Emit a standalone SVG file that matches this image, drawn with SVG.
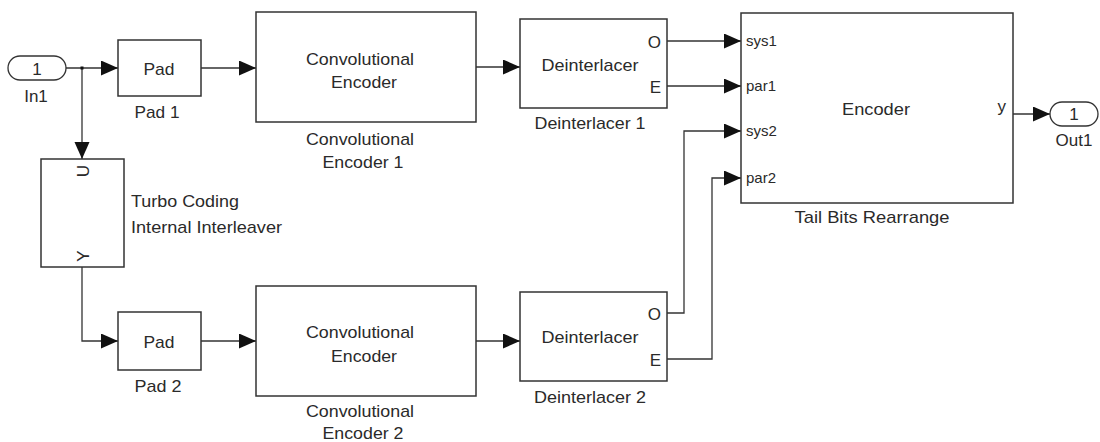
<svg xmlns="http://www.w3.org/2000/svg" width="1100" height="442" viewBox="0 0 1100 442">
  <style>
    .blk { fill: #ffffff; stroke: #333333; stroke-width: 1.5; }
    .io { fill: #ffffff; stroke: #333333; stroke-width: 1.3; }
    .wire { fill: none; stroke: #333333; stroke-width: 1.3; }
    text { font-family: "Liberation Sans", Arial, sans-serif; font-size: 17px; fill: #2a2a2a; }
    .port { font-size: 15px; }
    .mid { text-anchor: middle; }
    .end { text-anchor: end; }
  </style>
  <defs>
    <marker id="arrow" markerUnits="userSpaceOnUse" markerWidth="18" markerHeight="16" refX="17" refY="7.5" orient="auto">
      <path d="M0,0 L17,7.5 L0,15 z" fill="#111111"/>
    </marker>
  </defs>

  <!-- signal lines -->
  <g id="connectors">
    <path class="wire" d="M66,68 H118" marker-end="url(#arrow)"/>
    <path class="wire" d="M82,68 V159" marker-end="url(#arrow)"/>
    <rect x="80.5" y="66.5" width="3" height="3" fill="#111111"/>
    <path class="wire" d="M201,68 H256" marker-end="url(#arrow)"/>
    <path class="wire" d="M476,67 H520" marker-end="url(#arrow)"/>
    <path class="wire" d="M667,41 H741" marker-end="url(#arrow)"/>
    <path class="wire" d="M667,86 H741" marker-end="url(#arrow)"/>
    <path class="wire" d="M82,267 V341 H118" marker-end="url(#arrow)"/>
    <path class="wire" d="M201,341 H256" marker-end="url(#arrow)"/>
    <path class="wire" d="M476,341 H520" marker-end="url(#arrow)"/>
    <path class="wire" d="M667,313 H684 V131 H741" marker-end="url(#arrow)"/>
    <path class="wire" d="M667,359 H712 V178 H741" marker-end="url(#arrow)"/>
    <path class="wire" d="M1013,114 H1050" marker-end="url(#arrow)"/>
  </g>

  <!-- inport -->
  <g id="in1">
    <rect class="io" x="8" y="56" width="58" height="24" rx="12" ry="12"/>
    <text class="mid" x="37" y="75">1</text>
    <text class="mid" x="36" y="102">In1</text>
  </g>

  <g id="pad1">
    <rect class="blk" x="118" y="40" width="83" height="56"/>
    <text class="mid" x="159" y="75" textLength="31" lengthAdjust="spacingAndGlyphs">Pad</text>
    <text class="mid" x="157" y="118" textLength="45" lengthAdjust="spacingAndGlyphs">Pad 1</text>
  </g>

  <g id="convenc1">
    <rect class="blk" x="256" y="12" width="220" height="110"/>
    <text class="mid" x="360" y="65" textLength="108" lengthAdjust="spacingAndGlyphs">Convolutional</text>
    <text class="mid" x="364" y="88" textLength="66" lengthAdjust="spacingAndGlyphs">Encoder</text>
    <text class="mid" x="360" y="145" textLength="108" lengthAdjust="spacingAndGlyphs">Convolutional</text>
    <text class="mid" x="363" y="168" textLength="81" lengthAdjust="spacingAndGlyphs">Encoder 1</text>
  </g>

  <g id="deint1">
    <rect class="blk" x="520" y="19" width="147" height="89"/>
    <text class="mid" x="590" y="71" textLength="97" lengthAdjust="spacingAndGlyphs">Deinterlacer</text>
    <text class="end" x="661" y="48">O</text>
    <text class="end" x="661" y="93">E</text>
    <text class="mid" x="590" y="129" textLength="111" lengthAdjust="spacingAndGlyphs">Deinterlacer 1</text>
  </g>

  <g id="interleaver">
    <rect class="blk" x="41" y="159" width="83" height="108"/>
    <text class="mid" transform="translate(89,171) rotate(-90)">U</text>
    <text class="mid" transform="translate(89,256) rotate(-90)">Y</text>
    <text x="131" y="207" textLength="108" lengthAdjust="spacingAndGlyphs">Turbo Coding</text>
    <text x="131" y="233" textLength="151" lengthAdjust="spacingAndGlyphs">Internal Interleaver</text>
  </g>

  <g id="pad2">
    <rect class="blk" x="118" y="312" width="83" height="58"/>
    <text class="mid" x="159" y="348" textLength="31" lengthAdjust="spacingAndGlyphs">Pad</text>
    <text class="mid" x="158" y="392" textLength="47" lengthAdjust="spacingAndGlyphs">Pad 2</text>
  </g>

  <g id="convenc2">
    <rect class="blk" x="256" y="286" width="220" height="110"/>
    <text class="mid" x="360" y="338" textLength="108" lengthAdjust="spacingAndGlyphs">Convolutional</text>
    <text class="mid" x="364" y="362" textLength="66" lengthAdjust="spacingAndGlyphs">Encoder</text>
    <text class="mid" x="360" y="417" textLength="108" lengthAdjust="spacingAndGlyphs">Convolutional</text>
    <text class="mid" x="363" y="439" textLength="81" lengthAdjust="spacingAndGlyphs">Encoder 2</text>
  </g>

  <g id="deint2">
    <rect class="blk" x="520" y="292" width="147" height="89"/>
    <text class="mid" x="590" y="343" textLength="97" lengthAdjust="spacingAndGlyphs">Deinterlacer</text>
    <text class="end" x="661" y="320">O</text>
    <text class="end" x="661" y="366">E</text>
    <text class="mid" x="590" y="403" textLength="112" lengthAdjust="spacingAndGlyphs">Deinterlacer 2</text>
  </g>

  <g id="tailbits">
    <rect class="blk" x="741" y="13" width="272" height="190"/>
    <text class="port" x="746" y="46">sys1</text>
    <text class="port" x="746" y="91">par1</text>
    <text class="port" x="746" y="136">sys2</text>
    <text class="port" x="746" y="183">par2</text>
    <text class="mid" x="876" y="115" textLength="68" lengthAdjust="spacingAndGlyphs">Encoder</text>
    <text class="end" x="1006" y="112">y</text>
    <text class="mid" x="872" y="223" textLength="155" lengthAdjust="spacingAndGlyphs">Tail Bits Rearrange</text>
  </g>

  <!-- outport -->
  <g id="out1">
    <rect class="io" x="1050" y="102" width="48" height="24" rx="12" ry="12"/>
    <text class="mid" x="1074" y="120">1</text>
    <text class="mid" x="1074" y="146">Out1</text>
  </g>
</svg>
